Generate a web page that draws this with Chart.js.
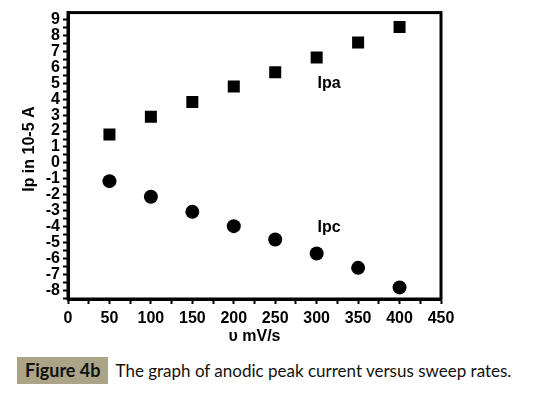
<!DOCTYPE html>
<html>
<head>
<meta charset="utf-8">
<script src="https://cdn.jsdelivr.net/npm/chart.js@4"></script>
<style>
  body { margin: 0; background: #fff; }
  #wrap { position: relative; width: 547px; height: 395px; overflow: hidden; }
  #chartBox { position: absolute; left: 0; top: 0; width: 547px; height: 350px; }
  #caption { position: absolute; left: 17px; top: 357px; height: 27px; font-family: Lato, "Open Sans", sans-serif; font-size: 17px; line-height: 27px; color: #111; white-space: nowrap; }
  #caption .tag { display: inline-block; background: #aba487; font-weight: bold; font-size: 18px; padding: 0 7px 0 8px; margin-right: 8px; }
</style>
</head>
<body>
<div id="wrap">
  <div id="chartBox"><canvas id="chart"></canvas></div>
  <div id="caption"><span class="tag">Figure 4b</span>The graph of anodic peak current versus sweep rates.</div>
</div>
<script>
// sweep rates (mV/s)
const sweepRates = [50, 100, 150, 200, 250, 300, 350, 400];
// peak currents (x10-5 A)
const ipa = [1.78, 2.9, 3.83, 4.8, 5.7, 6.63, 7.57, 8.55];
const ipc = [-1.15, -2.13, -3.08, -3.98, -4.82, -5.7, -6.6, -7.83];

// series labels placed on the plot
const seriesNames = ['Ipa', 'Ipc'];
const nameX = [315, 315];
const nameY = [5.0, -4.05];

const tickFont = 'Liberation Sans, Arial, sans-serif';

// box round the plot area + series labels
const framePlugin = {
  id: 'frame',
  afterDraw(chart) {
    const { ctx, chartArea: a, scales } = chart;
    ctx.save();
    ctx.strokeStyle = '#000';
    ctx.lineWidth = 3;
    ctx.strokeRect(a.left, a.top, a.right - a.left, a.bottom - a.top);
    ctx.fillStyle = '#000';
    ctx.font = 'bold 16px ' + tickFont;
    ctx.textAlign = 'center';
    ctx.textBaseline = 'middle';
    seriesNames.forEach((n, i) => {
      ctx.fillText(n, scales.x.getPixelForValue(nameX[i]), scales.y.getPixelForValue(nameY[i]));
    });
    ctx.restore();
  }
};

const ctx = document.getElementById('chart').getContext('2d');
new Chart(ctx, {
  type: 'scatter',
  data: {
    datasets: [{
      label: 'Ipa',
      data: sweepRates.map((x, i) => ({ x: x, y: ipa[i] })),
      pointStyle: 'rect',
      pointRadius: 8.5,
      backgroundColor: '#000',
      borderColor: '#000',
      borderWidth: 0
    }, {
      label: 'Ipc',
      data: sweepRates.map((x, i) => ({ x: x, y: ipc[i] })),
      pointStyle: 'circle',
      pointRadius: 7,
      backgroundColor: '#000',
      borderColor: '#000',
      borderWidth: 0
    }]
  },
  options: {
    responsive: true,
    maintainAspectRatio: false,
    animation: false,
    layout: { padding: { left: 0, right: 106, top: 12, bottom: 0 } },
    plugins: {
      legend: { display: false },
      tooltip: { enabled: false }
    },
    scales: {
      x: {
        type: 'linear',
        min: 0,
        max: 450,
        afterFit(scale) { scale.height = 51; },
        border: { display: true, color: '#000', width: 3 },
        grid: { drawOnChartArea: false, drawTicks: true, tickLength: 5, tickColor: '#000', tickWidth: 2 },
        ticks: {
          stepSize: 25,
          autoSkip: false,
          maxRotation: 0,
          includeBounds: false,
          padding: 5,
          color: '#000',
          font: { family: tickFont, size: 16, weight: 'bold' },
          callback: v => (v % 50 === 0 ? v : '')
        },
        title: {
          display: true,
          text: 'υ mV/s',
          color: '#000',
          font: { family: tickFont, size: 16, weight: 'bold' },
          padding: { top: 0, bottom: 4 }
        }
      },
      y: {
        type: 'linear',
        min: -8.56,
        max: 9.45,
        afterFit(scale) { scale.width = 68; },
        border: { display: true, color: '#000', width: 3 },
        grid: { drawOnChartArea: false, drawTicks: true, tickLength: 5, tickColor: '#000', tickWidth: 2 },
        ticks: {
          stepSize: 0.5,
          autoSkip: false,
          includeBounds: false,
          padding: 3,
          color: '#000',
          font: { family: tickFont, size: 16, weight: 'bold' },
          callback: v => (Number.isInteger(v) ? v : '')
        },
        title: {
          display: true,
          // leading spaces lift the rotated title a little, as in the original
          text: '   Ip in 10-5 A',
          color: '#000',
          font: { family: tickFont, size: 16, weight: 'bold' },
          padding: { top: 20, bottom: 0 }
        }
      }
    }
  },
  plugins: [framePlugin]
});
</script>
</body>
</html>
